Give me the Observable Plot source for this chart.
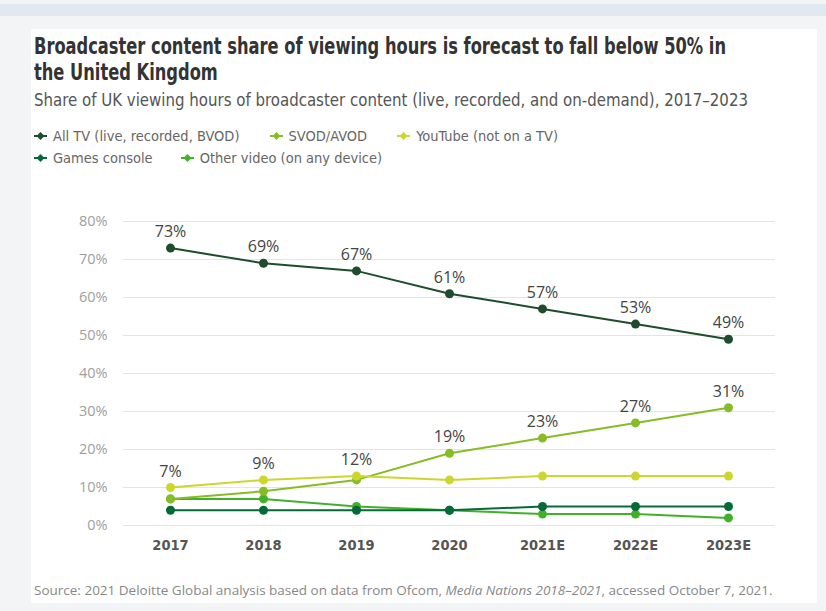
<!DOCTYPE html>
<html>
<head>
<meta charset="utf-8">
<script src="https://cdn.jsdelivr.net/npm/d3@7"></script>
<script src="https://cdn.jsdelivr.net/npm/@observablehq/plot@0.6"></script>
<style>
  html, body { margin:0; padding:0; }
  body { width:826px; height:611px; background:#f3f4f6; position:relative; overflow:hidden; font-family:"Open Sans", sans-serif; }
  #band { position:absolute; left:0; top:4px; width:826px; height:12px; background:#e2e8f1; }
  #card { position:absolute; left:31px; top:29px; width:786px; height:574px; background:#fff; }
  .narrow { font-family:"DejaVu Sans Condensed", "Liberation Sans Narrow", sans-serif; }
  #title { position:absolute; left:34px; top:33px; font-size:23.5px; line-height:26px; font-weight:bold; color:#333; }
  #title span { display:block; white-space:nowrap; transform-origin:0 50%; width:max-content; }
  #subtitle { position:absolute; left:34px; top:90px; font-size:17px; color:#555; white-space:nowrap; transform-origin:0 50%; }
  .legrow { position:absolute; left:34px; font-size:14.5px; color:#666; white-space:nowrap; display:flex; align-items:center; }
  .item { display:flex; align-items:center; }
  .item svg { margin-right:6px; }
  #chart { position:absolute; left:0; top:190px; }
  #source { position:absolute; left:34px; top:581px; font-size:13.5px; color:#888; white-space:nowrap; }
  g[aria-label="x-axis tick label"] { fill:#555; font-weight:bold; font-family:"DejaVu Sans Condensed","Liberation Sans Narrow",sans-serif; font-size:14.5px; }
  g[aria-label="y-axis tick label"] { fill:#a0a0a0; font-family:"Open Sans",sans-serif; font-size:14.5px; }
</style>
</head>
<body>
<div id="band"></div>
<div id="card"></div>
<div id="title" class="narrow"><span id="t1">Broadcaster content share of viewing hours is forecast to fall below 50% in</span><span id="t2">the United Kingdom</span></div>
<div id="subtitle" class="narrow">Share of UK viewing hours of broadcaster content (live, recorded, and on-demand), 2017–2023</div>
<div id="leg1" class="legrow narrow" style="top:128px"></div>
<div id="leg2" class="legrow narrow" style="top:150px"></div>
<div id="chart"></div>
<div id="source">Source: 2021 Deloitte Global analysis based on data from Ofcom, <i>Media Nations 2018–2021</i>, accessed October 7, 2021.</div>
<script>
const years = ["2017", "2018", "2019", "2020", "2021E", "2022E", "2023E"];
const seriesNames = ["All TV (live, recorded, BVOD)", "SVOD/AVOD", "YouTube (not on a TV)", "Games console", "Other video (on any device)"];
const seriesColors = ["#1d4d2c", "#86bc25", "#cdd62c", "#046a38", "#43b02a"];
const allTV   = [73, 69, 67, 61, 57, 53, 49];
const svod    = [7, 9, 12, 19, 23, 27, 31];
const youtube = [10, 12, 13, 12, 13, 13, 13];
const games   = [4, 4, 4, 4, 5, 5, 5];
const other   = [7, 7, 5, 4, 3, 3, 2];
const yTicks  = [0, 10, 20, 30, 40, 50, 60, 70, 80];

const seriesValues = [allTV, svod, youtube, games, other];
const data = [];
seriesNames.forEach((s, i) => years.forEach((y, j) => data.push({series: s, year: y, value: seriesValues[i][j]})));

const drawOrder = [seriesNames[4], seriesNames[3], seriesNames[1], seriesNames[2], seriesNames[0]];
const ordered = drawOrder.flatMap(s => data.filter(d => d.series === s));

const tvLabels = years.map((y, j) => ({year: y, value: allTV[j], text: allTV[j] + "%"}));
const svodLabels = years.map((y, j) => ({year: y, anchor: Math.max(svod[j], youtube[j]), text: svod[j] + "%"}));

const chart = Plot.plot({
  width: 826, height: 370,
  marginLeft: 123, marginRight: 51, marginTop: 31, marginBottom: 35,
  style: {background: "transparent", overflow: "visible"},
  x: {type: "point", domain: years, padding: 0.5, label: null},
  y: {domain: [0, 80], label: null},
  color: {domain: seriesNames, range: seriesColors},
  marks: [
    Plot.gridY(yTicks, {stroke: "#e4e4e4", strokeOpacity: 1, strokeWidth: 1}),
    Plot.axisY(yTicks, {tickSize: 0, tickPadding: 16, tickFormat: d => d + "%", label: null}),
    Plot.axisX({tickSize: 0, tickPadding: 14, label: null}),
    ...drawOrder.map(s => Plot.line(data.filter(d => d.series === s), {x: "year", y: "value", stroke: "series", strokeWidth: 2})),
    Plot.dot(ordered, {x: "year", y: "value", fill: "series", r: 4.5}),
    Plot.text(tvLabels, {x: "year", y: "value", text: "text", dy: -16, fill: "#444", fontSize: 16, fontFamily: "Open Sans"}),
    Plot.text(svodLabels, {x: "year", y: "anchor", text: "text", dy: -16, fill: "#444", fontSize: 16, fontFamily: "Open Sans"})
  ]
});
document.getElementById("chart").appendChild(chart);

function legendItem(name, color, gap) {
  const div = document.createElement("div");
  div.className = "item";
  div.style.marginRight = gap + "px";
  div.innerHTML = `<svg width="13" height="10"><line x1="0" y1="5" x2="13" y2="5" stroke="${color}" stroke-width="2"/><path d="M6.5 1 L10.5 5 L6.5 9 L2.5 5 Z" fill="${color}"/></svg><span>${name}</span>`;
  return div;
}
const leg1 = document.getElementById("leg1");
leg1.appendChild(legendItem(seriesNames[0], seriesColors[0], 30));
leg1.appendChild(legendItem(seriesNames[1], seriesColors[1], 30));
leg1.appendChild(legendItem(seriesNames[2], seriesColors[2], 0));
const leg2 = document.getElementById("leg2");
leg2.appendChild(legendItem(seriesNames[3], seriesColors[3], 28));
leg2.appendChild(legendItem(seriesNames[4], seriesColors[4], 0));

// fit title to the reference's line width
const t1 = document.getElementById("t1"), t2 = document.getElementById("t2");
const k = 692 / t1.getBoundingClientRect().width;
t1.style.transform = `scaleX(${k})`;
t2.style.transform = `scaleX(${k})`;
const sub = document.getElementById("subtitle");
sub.style.transform = `scaleX(${714 / sub.getBoundingClientRect().width})`;
</script>
</body>
</html>
